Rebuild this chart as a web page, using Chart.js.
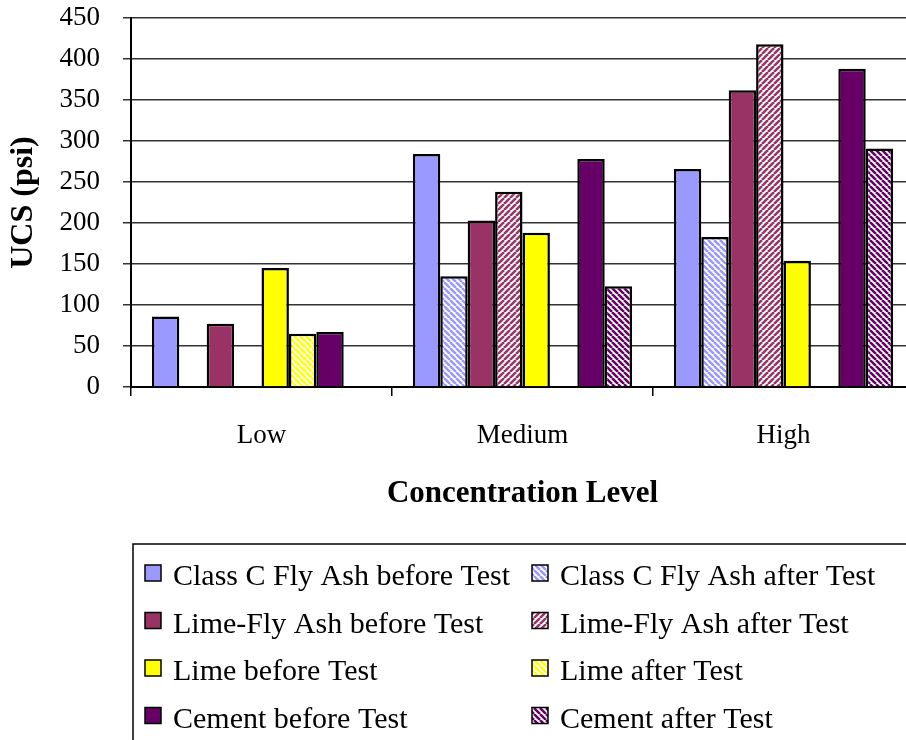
<!DOCTYPE html>
<html>
<head>
<meta charset="utf-8">
<script src="https://cdn.jsdelivr.net/npm/chart.js@4.4.0/dist/chart.umd.min.js"></script>
<style>
html, body { margin: 0; padding: 0; background: #fff; overflow: hidden; }
#wrap { width: 906px; height: 740px; overflow: hidden; }
</style>
</head>
<body>
<div id="wrap"><canvas id="myChart" width="920" height="740"></canvas></div>
<script>
// concentration levels on the x axis
const levels = ['Low', 'Medium', 'High'];
const yTicks = [0, 50, 100, 150, 200, 250, 300, 350, 400, 450];

// UCS (psi), null = no bar
const classCBefore  = [86, 284, 266];
const classCAfter   = [null, 135, 183];
const limeFlyBefore = [77, 203, 362];
const limeFlyAfter  = [null, 238, 418];
const limeBefore    = [145, 188, 154];
const limeAfter     = [65, null, null];
const cementBefore  = [67, 278, 388];
const cementAfter   = [null, 123, 291];

const serif = '"Liberation Serif", "Times New Roman", serif';

// diagonal white/colour stripes like the excel fill
function hatch(color, dir) {
  const s = 6;
  const c = document.createElement('canvas');
  c.width = s; c.height = s;
  const g = c.getContext('2d');
  g.fillStyle = '#fff';
  g.fillRect(0, 0, s, s);
  g.strokeStyle = color;
  g.lineWidth = 2.5;
  g.beginPath();
  for (let k = -1; k <= 1; k++) {
    if (dir === '\\') { g.moveTo(k * s, 0); g.lineTo(k * s + s, s); }
    else { g.moveTo(k * s, s); g.lineTo(k * s + s, 0); }
  }
  g.stroke();
  return g.createPattern(c, 'repeat');
}

// legend in a box, two columns (before | after)
const boxLegend = {
  id: 'boxLegend',
  afterDraw(chart) {
    const ctx = chart.ctx;
    ctx.save();
    ctx.strokeStyle = '#000';
    ctx.lineWidth = 1.5;
    ctx.strokeRect(133, 544, 900, 220);
    ctx.font = '30px ' + serif;
    ctx.textBaseline = 'alphabetic';
    ctx.textAlign = 'left';
    chart.data.datasets.forEach((ds, i) => {
      const col = i % 2;
      const row = Math.floor(i / 2);
      const x = col ? 532 : 145;
      const base = 585 + row * 47.5;
      ctx.fillStyle = ds.backgroundColor;
      ctx.fillRect(x, base - 20, 16, 16);
      ctx.lineWidth = 1.5;
      ctx.strokeRect(x, base - 20, 16, 16);
      ctx.fillStyle = '#000';
      ctx.fillText(ds.label, x + 28, base);
    });
    ctx.restore();
  }
};

const ctx = document.getElementById('myChart').getContext('2d');

const data = {
  labels: levels,
  datasets: [
    { label: 'Class C Fly Ash before Test', data: classCBefore,  backgroundColor: '#9999FF' },
    { label: 'Class C Fly Ash after Test',  data: classCAfter,   backgroundColor: hatch('#9999FF', '\\') },
    { label: 'Lime-Fly Ash before Test',    data: limeFlyBefore, backgroundColor: '#993366' },
    { label: 'Lime-Fly Ash after Test',     data: limeFlyAfter,  backgroundColor: hatch('#993366', '/') },
    { label: 'Lime before Test',            data: limeBefore,    backgroundColor: '#FFFF00' },
    { label: 'Lime after Test',             data: limeAfter,     backgroundColor: hatch('#FFFF00', '\\') },
    { label: 'Cement before Test',          data: cementBefore,  backgroundColor: '#660066' },
    { label: 'Cement after Test',           data: cementAfter,   backgroundColor: hatch('#660066', '\\') }
  ]
};
data.datasets.forEach(ds => {
  ds.borderColor = '#000';
  ds.borderWidth = 2.5;
  ds.categoryPercentage = 0.84;
  ds.barPercentage = 1.0;
});

const myChart = new Chart(ctx, {
  type: 'bar',
  data: data,
  plugins: [boxLegend],
  options: {
    responsive: false,
    animation: false,
    devicePixelRatio: 1,
    layout: { padding: { top: 18, right: 6, bottom: 223, left: 0 } },
    plugins: {
      legend: { display: false },
      tooltip: { enabled: false }
    },
    scales: {
      x: {
        afterFit: (scale) => { scale.height = 130; },
        grid: { drawOnChartArea: false, drawTicks: true, tickLength: 9, color: '#000', lineWidth: 1.5 },
        border: { color: '#000', width: 2 },
        ticks: { color: '#000', font: { family: serif, size: 27 }, padding: 24 },
        title: {
          display: true, text: 'Concentration Level', color: '#000',
          font: { family: serif, size: 31, weight: 'bold' }, padding: { top: 4, bottom: 4 }
        }
      },
      y: {
        min: 0, max: 450,
        afterBuildTicks: (scale) => { scale.ticks = yTicks.map(v => ({ value: v })); },
        afterFit: (scale) => {
          scale.width = 131;
          // tick padding would otherwise push the plot top down
          scale.paddingTop = 0;
          scale.paddingBottom = 0;
        },
        grid: { color: '#333', lineWidth: 1.5, tickLength: 8, drawTicks: true },
        border: { color: '#000', width: 2 },
        ticks: { color: '#000', font: { family: serif, size: 27 }, padding: 23 },
        title: {
          display: true, text: 'UCS (psi)', color: '#000',
          font: { family: serif, size: 32, weight: 'bold' }, padding: { top: 5, bottom: 0 }
        }
      }
    }
  }
});
</script>
</body>
</html>
